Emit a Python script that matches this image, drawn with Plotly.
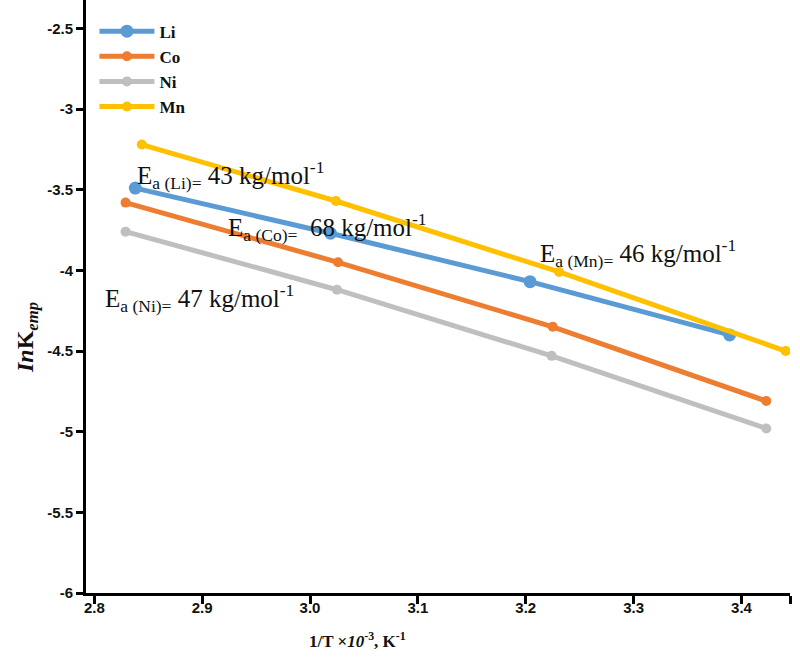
import plotly.graph_objects as go

# ---- data ----
series_names = ["Li", "Co", "Ni", "Mn"]
li_x = [2.838, 3.019, 3.204, 3.389]
li_y = [-3.49, -3.77, -4.07, -4.40]
co_x = [2.829, 3.026, 3.225, 3.423]
co_y = [-3.58, -3.95, -4.35, -4.81]
ni_x = [2.829, 3.025, 3.224, 3.423]
ni_y = [-3.76, -4.12, -4.53, -4.98]
mn_x = [2.844, 3.024, 3.231, 3.441]
mn_y = [-3.22, -3.57, -4.01, -4.50]

x_tickvals = [2.8, 2.9, 3.0, 3.1, 3.2, 3.3, 3.4, 3.445]
x_ticktext = ["2.8", "2.9", "3.0", "3.1", "3.2", "3.3", "3.4", ""]
y_tickvals = [-6, -5.5, -5, -4.5, -4, -3.5, -3, -2.5]
y_ticktext = ["-6", "-5.5", "-5", "-4.5", "-4", "-3.5", "-3", "-2.5"]

colors = {"Li": "#5B9BD5", "Co": "#ED7D31", "Ni": "#BFBFBF", "Mn": "#FFC000"}
msize = {"Li": 13, "Co": 10, "Ni": 10, "Mn": 10}
data = {"Li": (li_x, li_y), "Co": (co_x, co_y), "Ni": (ni_x, ni_y), "Mn": (mn_x, mn_y)}

fig = go.Figure()
for name in series_names:
    xs, ys = data[name]
    fig.add_trace(go.Scatter(
        x=xs, y=ys, mode="lines+markers", name=name,
        line=dict(color=colors[name], width=5),
        marker=dict(color=colors[name], size=msize[name]),
    ))

serif = "Liberation Serif"
ann_font = dict(family=serif, size=25, color="#111")
labels = [
    ("E<sub>a (Li)=</sub> 43 kg/mol<sup>-1</sup>", 2.838, -3.41),
    ("E<sub>a (Co)=</sub>  68 kg/mol<sup>-1</sup>", 2.922, -3.73),
    ("E<sub>a (Ni)=</sub> 47 kg/mol<sup>-1</sup>", 2.808, -4.17),
    ("E<sub>a (Mn)=</sub> 46 kg/mol<sup>-1</sup>", 3.211, -3.89),
]
for txt, ax, ay in labels:
    fig.add_annotation(x=ax, y=ay, xref="x", yref="y", text=txt, showarrow=False,
                       xanchor="left", yanchor="middle", font=ann_font)

# axis titles as annotations (positioned like the reference)
fig.add_annotation(x=(357 - 86) / 704, y=-(640 - 593) / 593, xref="paper", yref="paper",
                   text="<b>1/T ×<i>10</i><sup>-3</sup>, K<sup>-1</sup></b>",
                   showarrow=False, xanchor="center", yanchor="middle",
                   font=dict(family=serif, size=17, color="#111"))
fig.add_annotation(x=-(86 - 27) / 704, y=(593 - 338) / 593, xref="paper", yref="paper",
                   text="<b><i>In</i>K<sub><i>emp</i></sub></b>", textangle=-90,
                   showarrow=False, xanchor="center", yanchor="middle",
                   font=dict(family=serif, size=24, color="#111"))

tick_font = dict(family="Liberation Sans", size=15, color="#111", weight="bold")

fig.update_layout(
    width=800, height=661,
    margin=dict(l=86, r=10, t=0, b=68),
    paper_bgcolor="white", plot_bgcolor="white",
    showlegend=True,
    legend=dict(x=0.012, y=0.977, xanchor="left", yanchor="top",
                font=dict(family=serif, size=17, color="#111", weight="bold"),
                bgcolor="rgba(0,0,0,0)", tracegroupgap=0, itemwidth=55),
    xaxis=dict(range=[2.7923, 3.445], tickvals=x_tickvals, ticktext=x_ticktext,
               showgrid=False, zeroline=False, showline=True, linecolor="black",
               linewidth=3, ticks="outside", ticklen=8, tickwidth=2.5, tickcolor="black",
               tickfont=tick_font, ticklabelstandoff=-9),
    yaxis=dict(range=[-6, -2.324], tickvals=y_tickvals, ticktext=y_ticktext,
               showgrid=False, zeroline=False, showline=True, linecolor="black",
               linewidth=3, ticks="outside", ticklen=7, tickwidth=2.5, tickcolor="black",
               tickfont=tick_font),
)

fig.write_html("out.html")
